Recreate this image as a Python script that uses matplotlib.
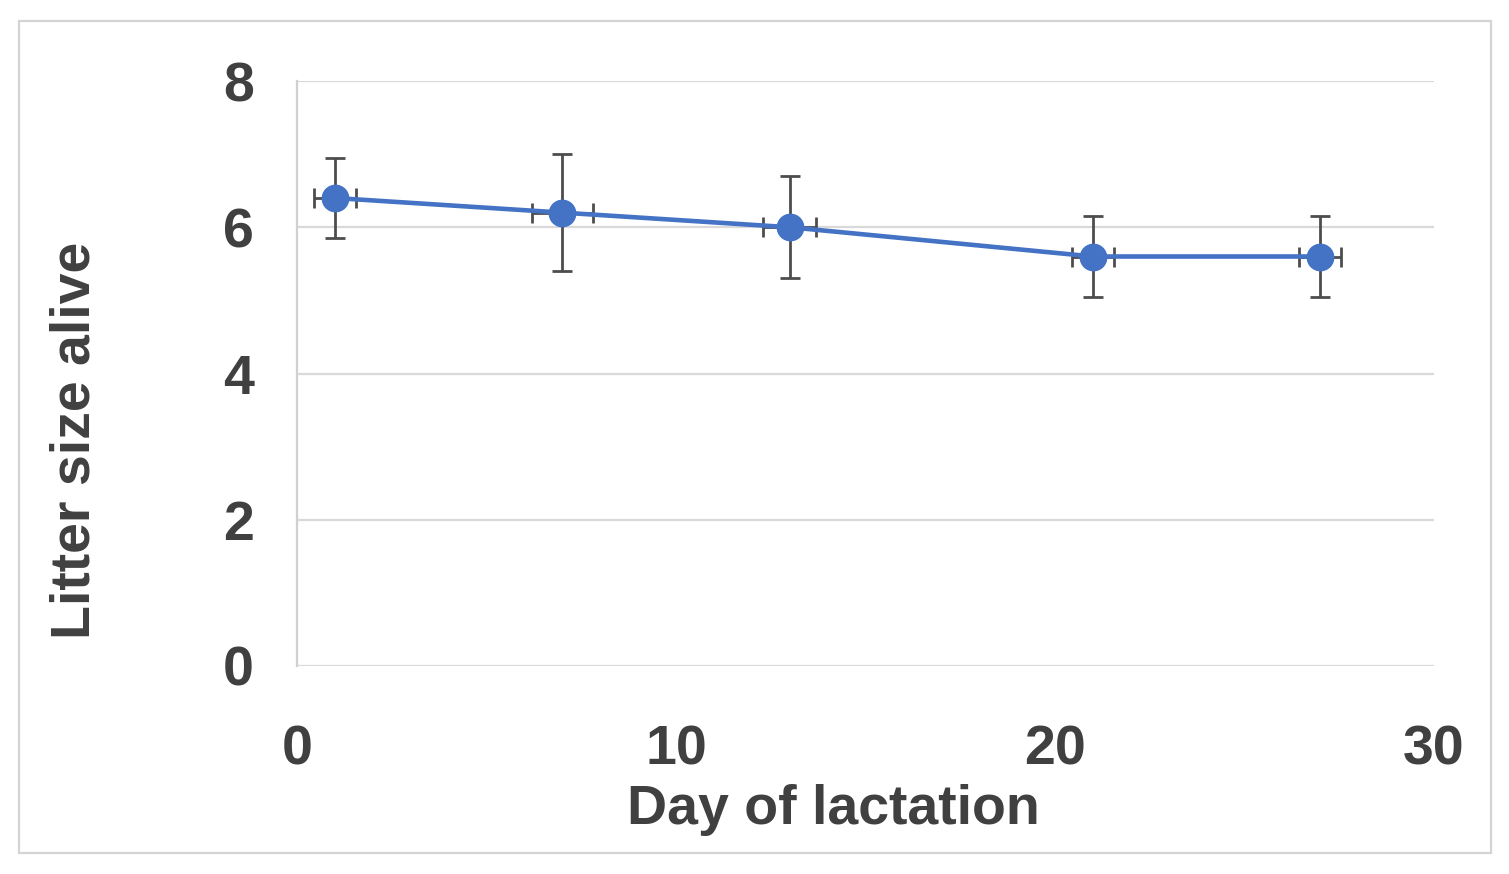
import matplotlib.pyplot as plt
from matplotlib.patches import Rectangle

# data
day = [1, 7, 13, 21, 27]
litter_alive = [6.4, 6.2, 6.0, 5.6, 5.6]
err = [0.55, 0.8, 0.7, 0.55, 0.55]

x_ticks = [0, 10, 20, 30]
y_ticks = [0, 2, 4, 6, 8]

plt.rcParams['font.family'] = ['Liberation Sans', 'DejaVu Sans']
text_col = '#404040'

fig = plt.figure(figsize=(15.09, 8.74), dpi=100)
ax = fig.add_axes([297 / 1509, 1 - 666 / 874, (1434 - 297) / 1509, (666 - 81) / 874])

# outer frame of the picture
fig.patches.append(Rectangle((19 / 1509, 1 - 853 / 874), (1491 - 19) / 1509, (853 - 21) / 874,
                             transform=fig.transFigure, fill=False, edgecolor='#d4d4d4', lw=1.6))

ax.errorbar(day, litter_alive, xerr=err, yerr=err, fmt='none', ecolor='#4d4d4d',
            elinewidth=2, capsize=7, capthick=2, zorder=2)
ax.plot(day, litter_alive, color='#4472C4', lw=3.3, marker='o', ms=19, zorder=3)

ax.set_xlim(0, 30)
ax.set_ylim(0, 8)
ax.set_xticks(x_ticks)
ax.set_yticks(y_ticks)
ax.grid(axis='y', color='#d9d9d9', lw=1.6)
ax.set_axisbelow(True)
for s in ['top', 'right', 'bottom']:
    ax.spines[s].set_visible(False)
ax.spines['left'].set_color('#d0d0d0')
ax.spines['left'].set_linewidth(1.6)
ax.tick_params(length=0, labelsize=40, labelcolor=text_col)
ax.tick_params(axis='x', pad=42)
ax.tick_params(axis='y', pad=31)
for lbl in ax.get_xticklabels() + ax.get_yticklabels():
    lbl.set_fontweight('bold')

ax.set_xlabel('Day of lactation', fontsize=40, fontweight='bold', color=text_col, va='center')
ax.set_ylabel('Litter size alive', fontsize=40, fontweight='bold', color=text_col, va='center')
ax.xaxis.set_label_coords((833 - 297) / 1137, (666 - 810) / 585)
ax.yaxis.set_label_coords((75 - 297) / 1137, (666 - 440) / 585)

fig.savefig('out.png', dpi=100)
